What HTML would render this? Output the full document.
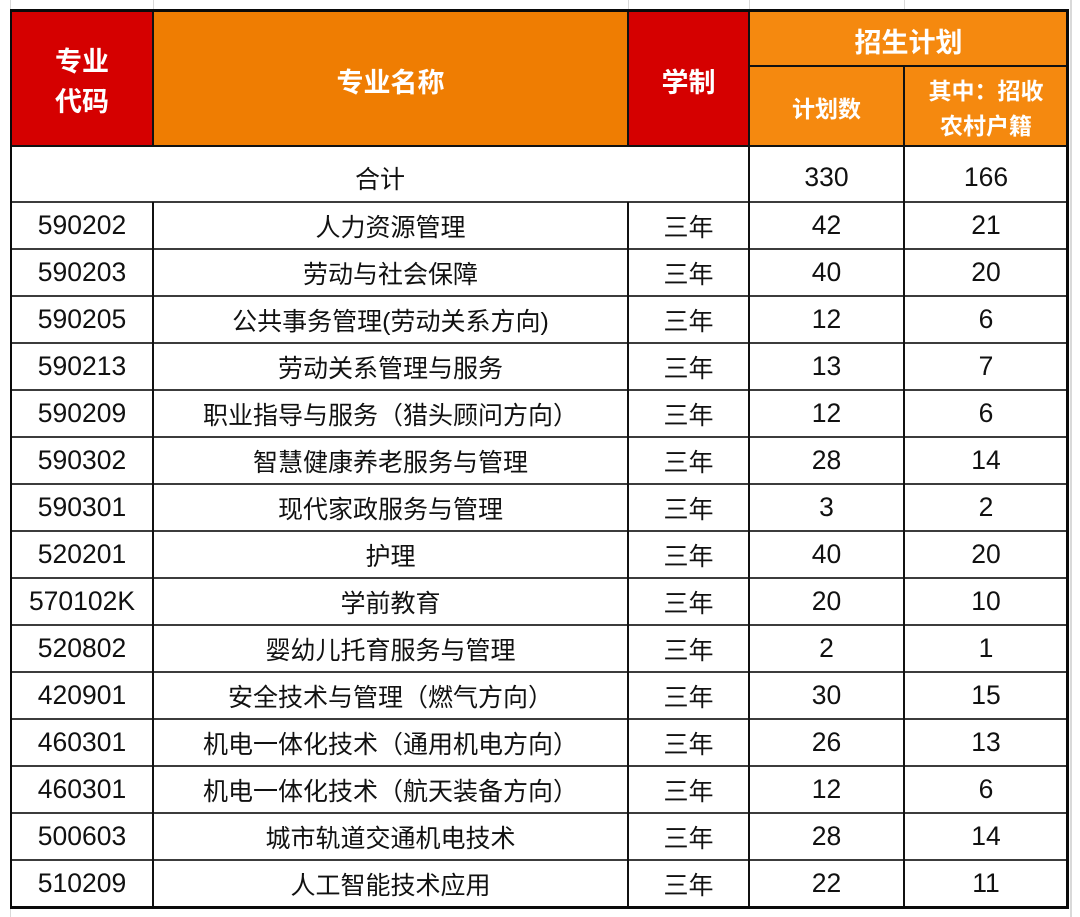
<!DOCTYPE html>
<html><head><meta charset="utf-8">
<style>
*{margin:0;padding:0;box-sizing:border-box}
body{width:1080px;height:917px;background:#fff;position:relative;overflow:hidden;font-family:"Liberation Sans","Noto Sans CJK SC",sans-serif;color:#111}
.a{position:absolute}
.c{position:absolute;display:flex;align-items:center;justify-content:center;text-align:center;white-space:nowrap}
.h{color:#fff;font-weight:bold;font-family:"Noto Sans CJK SC","Liberation Sans",sans-serif}
.t{font-size:25px}
.n{font-size:26.5px}
.vl{position:absolute;width:2px;background:#111}
.hl{position:absolute;height:2px;background:#3c3c3c}
.g{position:absolute;width:1px;background:#d9d9d9}
</style></head><body>
<!-- spreadsheet gridlines -->
<div class="g" style="left:10px;top:0;height:917px"></div>
<div class="g" style="left:153px;top:0;height:10px"></div>
<div class="g" style="left:628px;top:0;height:10px"></div>
<div class="g" style="left:749px;top:0;height:10px"></div>
<div class="g" style="left:904px;top:0;height:10px"></div>
<div class="g" style="left:1070px;top:0;height:917px;width:2px"></div>

<!-- header backgrounds -->
<div class="a" style="left:11px;top:10px;width:142px;height:136px;background:#d50000"></div>
<div class="a" style="left:153px;top:10px;width:475px;height:136px;background:#ef7d02"></div>
<div class="a" style="left:628px;top:10px;width:121px;height:136px;background:#d50000"></div>
<div class="a" style="left:749px;top:10px;width:319px;height:136px;background:#f5890f"></div>

<!-- header text -->
<div class="c h" style="left:11px;top:12px;width:142px;height:136px;font-size:27px;line-height:40px">专业<br>代码</div>
<div class="c h" style="left:153px;top:12px;width:475px;height:136px;font-size:27px">专业名称</div>
<div class="c h" style="left:628px;top:12px;width:121px;height:136px;font-size:27px">学制</div>
<div class="c h" style="left:749px;top:12px;width:319px;height:56px;font-size:27px">招生计划</div>
<div class="c h" style="left:749px;top:67px;width:155px;height:80px;font-size:23px">计划数</div>
<div class="c h" style="left:904px;top:67px;width:164px;height:80px;font-size:23px;line-height:35px">其中：招收<br>农村户籍</div>

<!-- total row -->
<div class="c t" style="left:11px;top:153px;width:738px;height:49px">合计</div>
<div class="c n" style="left:749px;top:153px;width:155px;height:49px">330</div>
<div class="c n" style="left:904px;top:153px;width:164px;height:49px">166</div>

<!-- data rows -->
<div id="rows">
<div class="c n" style="left:11px;top:202px;width:142px;height:47px">590202</div><div class="c t" style="left:153px;top:202px;width:475px;height:47px">人力资源管理</div><div class="c t" style="left:628px;top:202px;width:121px;height:47px">三年</div><div class="c n" style="left:749px;top:202px;width:155px;height:47px">42</div><div class="c n" style="left:904px;top:202px;width:164px;height:47px">21</div>
<div class="c n" style="left:11px;top:249px;width:142px;height:47px">590203</div><div class="c t" style="left:153px;top:249px;width:475px;height:47px">劳动与社会保障</div><div class="c t" style="left:628px;top:249px;width:121px;height:47px">三年</div><div class="c n" style="left:749px;top:249px;width:155px;height:47px">40</div><div class="c n" style="left:904px;top:249px;width:164px;height:47px">20</div>
<div class="c n" style="left:11px;top:296px;width:142px;height:47px">590205</div><div class="c t" style="left:153px;top:296px;width:475px;height:47px">公共事务管理(劳动关系方向)</div><div class="c t" style="left:628px;top:296px;width:121px;height:47px">三年</div><div class="c n" style="left:749px;top:296px;width:155px;height:47px">12</div><div class="c n" style="left:904px;top:296px;width:164px;height:47px">6</div>
<div class="c n" style="left:11px;top:343px;width:142px;height:47px">590213</div><div class="c t" style="left:153px;top:343px;width:475px;height:47px">劳动关系管理与服务</div><div class="c t" style="left:628px;top:343px;width:121px;height:47px">三年</div><div class="c n" style="left:749px;top:343px;width:155px;height:47px">13</div><div class="c n" style="left:904px;top:343px;width:164px;height:47px">7</div>
<div class="c n" style="left:11px;top:390px;width:142px;height:47px">590209</div><div class="c t" style="left:153px;top:390px;width:475px;height:47px">职业指导与服务（猎头顾问方向）</div><div class="c t" style="left:628px;top:390px;width:121px;height:47px">三年</div><div class="c n" style="left:749px;top:390px;width:155px;height:47px">12</div><div class="c n" style="left:904px;top:390px;width:164px;height:47px">6</div>
<div class="c n" style="left:11px;top:437px;width:142px;height:47px">590302</div><div class="c t" style="left:153px;top:437px;width:475px;height:47px">智慧健康养老服务与管理</div><div class="c t" style="left:628px;top:437px;width:121px;height:47px">三年</div><div class="c n" style="left:749px;top:437px;width:155px;height:47px">28</div><div class="c n" style="left:904px;top:437px;width:164px;height:47px">14</div>
<div class="c n" style="left:11px;top:484px;width:142px;height:47px">590301</div><div class="c t" style="left:153px;top:484px;width:475px;height:47px">现代家政服务与管理</div><div class="c t" style="left:628px;top:484px;width:121px;height:47px">三年</div><div class="c n" style="left:749px;top:484px;width:155px;height:47px">3</div><div class="c n" style="left:904px;top:484px;width:164px;height:47px">2</div>
<div class="c n" style="left:11px;top:531px;width:142px;height:47px">520201</div><div class="c t" style="left:153px;top:531px;width:475px;height:47px">护理</div><div class="c t" style="left:628px;top:531px;width:121px;height:47px">三年</div><div class="c n" style="left:749px;top:531px;width:155px;height:47px">40</div><div class="c n" style="left:904px;top:531px;width:164px;height:47px">20</div>
<div class="c n" style="left:11px;top:578px;width:142px;height:47px">570102K</div><div class="c t" style="left:153px;top:578px;width:475px;height:47px">学前教育</div><div class="c t" style="left:628px;top:578px;width:121px;height:47px">三年</div><div class="c n" style="left:749px;top:578px;width:155px;height:47px">20</div><div class="c n" style="left:904px;top:578px;width:164px;height:47px">10</div>
<div class="c n" style="left:11px;top:625px;width:142px;height:47px">520802</div><div class="c t" style="left:153px;top:625px;width:475px;height:47px">婴幼儿托育服务与管理</div><div class="c t" style="left:628px;top:625px;width:121px;height:47px">三年</div><div class="c n" style="left:749px;top:625px;width:155px;height:47px">2</div><div class="c n" style="left:904px;top:625px;width:164px;height:47px">1</div>
<div class="c n" style="left:11px;top:672px;width:142px;height:47px">420901</div><div class="c t" style="left:153px;top:672px;width:475px;height:47px">安全技术与管理（燃气方向）</div><div class="c t" style="left:628px;top:672px;width:121px;height:47px">三年</div><div class="c n" style="left:749px;top:672px;width:155px;height:47px">30</div><div class="c n" style="left:904px;top:672px;width:164px;height:47px">15</div>
<div class="c n" style="left:11px;top:719px;width:142px;height:47px">460301</div><div class="c t" style="left:153px;top:719px;width:475px;height:47px">机电一体化技术（通用机电方向）</div><div class="c t" style="left:628px;top:719px;width:121px;height:47px">三年</div><div class="c n" style="left:749px;top:719px;width:155px;height:47px">26</div><div class="c n" style="left:904px;top:719px;width:164px;height:47px">13</div>
<div class="c n" style="left:11px;top:766px;width:142px;height:47px">460301</div><div class="c t" style="left:153px;top:766px;width:475px;height:47px">机电一体化技术（航天装备方向）</div><div class="c t" style="left:628px;top:766px;width:121px;height:47px">三年</div><div class="c n" style="left:749px;top:766px;width:155px;height:47px">12</div><div class="c n" style="left:904px;top:766px;width:164px;height:47px">6</div>
<div class="c n" style="left:11px;top:813px;width:142px;height:47px">500603</div><div class="c t" style="left:153px;top:813px;width:475px;height:47px">城市轨道交通机电技术</div><div class="c t" style="left:628px;top:813px;width:121px;height:47px">三年</div><div class="c n" style="left:749px;top:813px;width:155px;height:47px">28</div><div class="c n" style="left:904px;top:813px;width:164px;height:47px">14</div>
<div class="c n" style="left:11px;top:860px;width:142px;height:47px">510209</div><div class="c t" style="left:153px;top:860px;width:475px;height:47px">人工智能技术应用</div><div class="c t" style="left:628px;top:860px;width:121px;height:47px">三年</div><div class="c n" style="left:749px;top:860px;width:155px;height:47px">22</div><div class="c n" style="left:904px;top:860px;width:164px;height:47px">11</div>
</div>

<!-- horizontal lines -->
<div class="hl" style="left:11px;top:145px;width:1057px;background:#111"></div>
<div class="hl" style="left:749px;top:65px;width:319px;background:#111"></div>
<div class="hl" style="left:11px;top:201px;width:1057px"></div>
<div class="hl" style="left:11px;top:248px;width:1057px"></div>
<div class="hl" style="left:11px;top:295px;width:1057px"></div>
<div class="hl" style="left:11px;top:342px;width:1057px"></div>
<div class="hl" style="left:11px;top:389px;width:1057px"></div>
<div class="hl" style="left:11px;top:436px;width:1057px"></div>
<div class="hl" style="left:11px;top:483px;width:1057px"></div>
<div class="hl" style="left:11px;top:530px;width:1057px"></div>
<div class="hl" style="left:11px;top:577px;width:1057px"></div>
<div class="hl" style="left:11px;top:624px;width:1057px"></div>
<div class="hl" style="left:11px;top:671px;width:1057px"></div>
<div class="hl" style="left:11px;top:718px;width:1057px"></div>
<div class="hl" style="left:11px;top:765px;width:1057px"></div>
<div class="hl" style="left:11px;top:812px;width:1057px"></div>
<div class="hl" style="left:11px;top:859px;width:1057px"></div>

<!-- vertical lines -->
<div class="vl" style="left:152px;top:10px;height:136px"></div>
<div class="vl" style="left:152px;top:202px;height:706px"></div>
<div class="vl" style="left:627px;top:10px;height:136px"></div>
<div class="vl" style="left:627px;top:202px;height:706px"></div>
<div class="vl" style="left:748px;top:10px;height:898px"></div>
<div class="vl" style="left:903px;top:66px;height:842px"></div>

<!-- outer border -->
<div class="a" style="left:10px;top:9px;width:1059px;height:900px;border:3px solid #0a0a0a;border-left-width:2px"></div>
</body></html>
